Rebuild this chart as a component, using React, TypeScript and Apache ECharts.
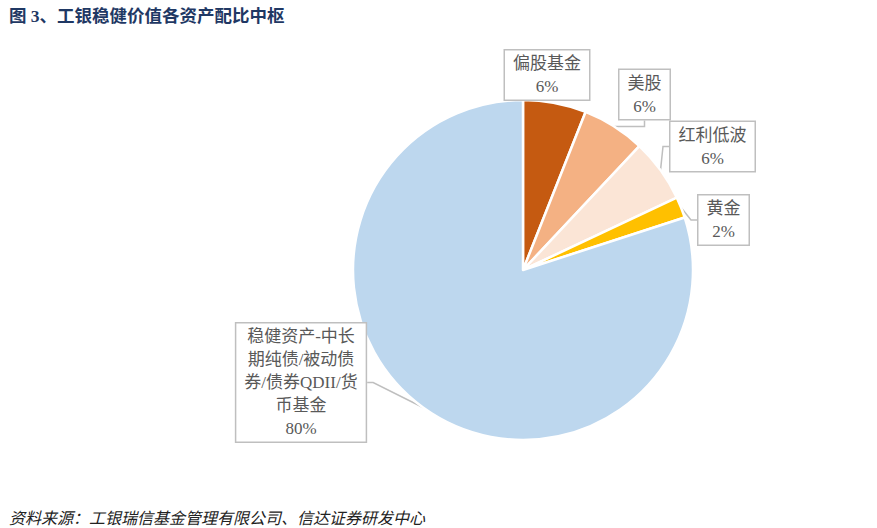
import React, { useEffect, useRef } from 'react';
import * as echarts from 'echarts';

const assetNames = ['偏股基金', '美股', '红利低波', '黄金', '稳健资产-中长期纯债/被动债券/债券QDII/货币基金'];
const labelTexts = ['偏股基金', '美股', '红利低波', '黄金', '稳健资产-中长\n期纯债/被动债\n券/债券QDII/货\n币基金'];
const weights = [6, 6, 6, 2, 80];
const sliceColors = ['#C55A11', '#F4B183', '#FBE5D6', '#FFC000', '#BDD7EE'];

// centre of each callout box
const labelCenters: [number, number][] = [
  [547, 75],
  [644.5, 94.5],
  [712.5, 146.5],
  [723.5, 220],
  [301, 382.5],
];

const TITLE = '图 3、工银稳健价值各资产配比中枢';
const SOURCE = '资料来源：工银瑞信基金管理有限公司、信达证券研发中心';

const FONT = '"Liberation Serif", "Noto Sans CJK SC", serif';

export default function App() {
  const chartRef = useRef<HTMLDivElement>(null);

  useEffect(() => {
    if (!chartRef.current) return;
    const chart = echarts.init(chartRef.current, undefined, { renderer: 'svg' });

    const option: echarts.EChartsOption = {
      animation: false,
      backgroundColor: '#ffffff',
      title: [
        {
          text: TITLE,
          left: 4,
          top: 2,
          textStyle: {
            fontFamily: FONT,
            fontSize: 17.5,
            fontWeight: 'bold',
            color: '#1F3864',
          },
        },
        {
          text: SOURCE,
          left: 4,
          top: 505,
          textStyle: {
            fontFamily: FONT,
            fontSize: 16,
            fontWeight: 'normal',
            fontStyle: 'italic',
            color: '#222222',
          },
        },
      ],
      series: [
        {
          type: 'pie',
          center: [523, 270],
          radius: 170,
          startAngle: 90,
          clockwise: true,
          data: assetNames.map((name, i) => ({
            name,
            value: weights[i],
            itemStyle: { color: sliceColors[i] },
          })),
          itemStyle: { borderColor: '#ffffff', borderWidth: 2.5 },
          label: {
            show: true,
            position: 'outside',
            formatter: (p: any) => `${labelTexts[p.dataIndex]}\n${p.value}%`,
            fontFamily: FONT,
            fontSize: 17,
            lineHeight: 23,
            color: '#595959',
            align: 'center',
            backgroundColor: '#ffffff',
            borderColor: '#BFBFBF',
            borderWidth: 1.5,
            padding: [2, 8, 1, 8],
          },
          labelLine: {
            show: true,
            length: 6,
            length2: 6,
            lineStyle: { color: '#BFBFBF', width: 1.5 },
          },
          labelLayout: (params: any) => {
            const [x, y] = labelCenters[params.dataIndex];
            return { x, y, align: 'center', verticalAlign: 'middle' };
          },
          emphasis: { disabled: true },
        },
      ],
    };

    chart.setOption(option);
    return () => chart.dispose();
  }, []);

  return (
    <div
      ref={chartRef}
      style={{ position: 'absolute', left: 0, top: 0, width: 877, height: 528 }}
    />
  );
}
